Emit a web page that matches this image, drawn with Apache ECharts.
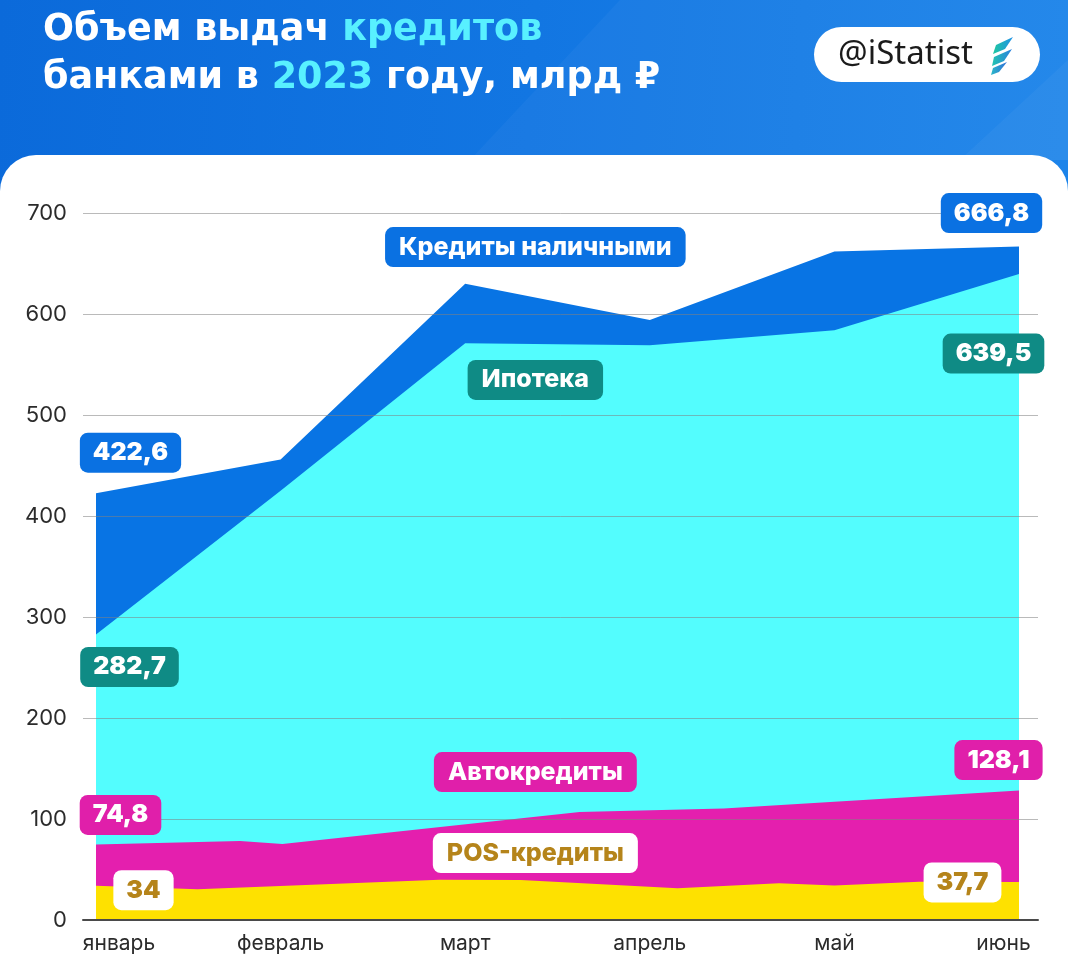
<!DOCTYPE html>
<html><head><meta charset="utf-8">
<script src="https://cdn.jsdelivr.net/npm/echarts@6/dist/echarts.min.js"></script>
<style>html,body{margin:0;padding:0;background:#fff}#c{width:1068px;height:976px}</style>
</head><body><div id="c"></div>
<script>
// ---------- data ----------
const months = ['январь', 'февраль', 'март', 'апрель', 'май', 'июнь'];
const yTicks = [0, 100, 200, 300, 400, 500, 600, 700];
const seriesNames = ['Кредиты наличными', 'Ипотека', 'Автокредиты', 'POS-кредиты'];

const cashPos = [0, 1, 2, 3, 4, 5];
const cashValues = [422.6, 456, 630, 594, 662, 666.8];

const mortgagePos = [0, 1, 2, 3, 4, 5];
const mortgageValues = [282.7, 425, 571, 569, 584, 639.5];

const autoPos = [0, 0.78, 1.01, 2.62, 3.4, 5];
const autoValues = [74.8, 78.3, 75.2, 107, 110.5, 128.1];

const posPos = [0, 0.55, 1.86, 2.3, 3.15, 3.7, 4.0, 4.46, 5];
const posValues = [34, 30.5, 39.8, 39.5, 31.5, 36.3, 34.2, 37.9, 37.7];

// ---------- styles ----------
const FONT = 'Inter, "Open Sans", sans-serif';
const TITLE_FONT = '"DejaVu Sans", sans-serif';
const C_CASH = '#0874E4', C_MORT = '#53FDFE', C_AUTO = '#E41FAE', C_POS = '#FEE100';
const B_CASH = '#0A71E2', B_MORT = '#0F8B85', B_AUTO = '#E01FAA', T_POS = '#B5841A';

const fmt = v => String(v).replace('.', ',');

function boxLabel(bg, fg, dx, dy) {
  return {
    show: true, position: [dx, dy], align: 'center', verticalAlign: 'middle',
    backgroundColor: bg, color: fg, borderRadius: 8, padding: [7, 13, 7, 13],
    fontSize: 25, lineHeight: 26, fontWeight: 900, fontFamily: FONT,
    formatter: p => fmt(p.value)
  };
}

function nameLabel(bg, fg) {
  return {
    show: true, position: 'inside', backgroundColor: bg, color: fg,
    borderRadius: 8, padding: [7, 14, 7, 14], fontSize: 25, lineHeight: 26,
    fontWeight: 800, fontFamily: FONT, formatter: p => p.name
  };
}

// value call-outs on the first and last point of a series
function endPoints(xs, vs, firstLabel, lastLabel) {
  const n = xs.length - 1;
  return [
    { coord: [xs[0], vs[0]], value: vs[0], label: firstLabel },
    { coord: [xs[n], vs[n]], value: vs[n], label: lastLabel }
  ];
}

function areaSeries(name, color, xs, vs, markData) {
  return {
    name, type: 'line', xAxisIndex: 0, yAxisIndex: 0,
    showSymbol: false, symbol: 'none',
    lineStyle: { width: 0, color: color },
    areaStyle: { color: color, opacity: 1 },
    silent: true, animation: false, z: 2,
    data: xs.map((x, i) => [x, vs[i]]),
    markPoint: {
      z: 20, symbol: 'circle', symbolSize: 1, itemStyle: { color: 'rgba(0,0,0,0)' },
      silent: true, animation: false, data: markData
    }
  };
}

const chart = echarts.init(document.getElementById('c'), null, { renderer: 'canvas' });

const option = {
  backgroundColor: '#ffffff',
  animation: false,
  graphic: [
    { type: 'rect', z: -10, silent: true, shape: { x: 0, y: 0, width: 1068, height: 195 },
      style: { fill: new echarts.graphic.LinearGradient(0, 0, 1, 0.3, [
        { offset: 0, color: '#0B6ADA' }, { offset: 0.5, color: '#1276E2' }, { offset: 1, color: '#1C84EA' }]) } },
    { type: 'polygon', z: -9, silent: true, shape: { points: [[470, 160], [620, 0], [1068, 0], [1068, 160]] },
      style: { fill: 'rgba(255,255,255,0.035)' } },
    { type: 'polygon', z: -9, silent: true, shape: { points: [[960, 160], [1068, 60], [1068, 160]] },
      style: { fill: 'rgba(255,255,255,0.04)' } },
    { type: 'rect', z: -8, silent: true, shape: { x: 0, y: 155, width: 1068, height: 40, r: [36, 36, 0, 0] },
      style: { fill: '#ffffff' } },
    { type: 'text', z: 5, x: 43, y: 7, silent: true,
      style: {
        text: '{w|Объем выдач }{c|кредитов}\n{w|банками в }{c|2023}{w| году, млрд ₽}',
        rich: {
          w: { fill: '#ffffff', fontSize: 36.5, fontWeight: 'bold', fontFamily: TITLE_FONT, lineHeight: 48 },
          c: { fill: '#58F0FF', fontSize: 36.5, fontWeight: 'bold', fontFamily: TITLE_FONT, lineHeight: 48 }
        }
      } },
    { type: 'rect', z: 5, silent: true, shape: { x: 814, y: 27, width: 226, height: 55, r: 27.5 },
      style: { fill: '#ffffff' } },
    { type: 'text', z: 6, x: 838, y: 55, silent: true,
      style: { text: '@iStatist', fill: '#1b1b1b', fontSize: 33, fontFamily: '"Noto Sans", sans-serif', fontWeight: 400,
        textAlign: 'left', textVerticalAlign: 'middle' } },
    { type: 'polygon', z: 6, silent: true, shape: { points: [[996, 45], [1013, 37], [1005, 49], [993, 54]] },
      style: { fill: new echarts.graphic.LinearGradient(0, 0, 1, 0, [{ offset: 0, color: '#1FC8A0' }, { offset: 1, color: '#1E90E8' }]) } },
    { type: 'polygon', z: 6, silent: true, shape: { points: [[994, 57], [1012, 49], [1004, 61], [992, 66]] },
      style: { fill: new echarts.graphic.LinearGradient(0, 0, 1, 0, [{ offset: 0, color: '#22C4B0' }, { offset: 1, color: '#2A7FE0' }]) } },
    { type: 'polygon', z: 6, silent: true, shape: { points: [[993, 68], [1007, 62], [999, 72], [991, 75]] },
      style: { fill: new echarts.graphic.LinearGradient(0, 0, 1, 0, [{ offset: 0, color: '#2BB8C8' }, { offset: 1, color: '#2F6FD8' }]) } }
  ],
  grid: [
    { left: 96, right: 49, top: 213, bottom: 56 },
    { left: 83, right: 30, top: 213, bottom: 56 }
  ],
  xAxis: [
    { type: 'value', gridIndex: 0, min: 0, max: 5, interval: 1,
      axisLine: { show: false }, axisTick: { show: false }, splitLine: { show: false },
      axisLabel: {
        margin: 13, color: '#2b2b2b', fontSize: 21, fontFamily: FONT,
        showMinLabel: true, showMaxLabel: true,
        formatter: v => {
          const i = Math.round(v);
          if (i === 0) return '{first|' + months[0] + '}';
          if (i === months.length - 1) return '{last|' + months[i] + '}';
          return '{mid|' + months[i] + '}';
        },
        rich: {
          first: { padding: [0, 0, 0, 46], fontSize: 21, fontFamily: FONT, color: '#2b2b2b' },
          last: { padding: [0, 31, 0, 0], fontSize: 21, fontFamily: FONT, color: '#2b2b2b' },
          mid: { fontSize: 21, fontFamily: FONT, color: '#2b2b2b' }
        }
      } },
    { type: 'value', gridIndex: 1, min: 0, max: 1, z: 10,
      axisLine: { show: true, lineStyle: { color: '#4a4a4a', width: 2 } },
      axisTick: { show: false }, axisLabel: { show: false }, splitLine: { show: false } }
  ],
  yAxis: [
    { type: 'value', gridIndex: 0, min: 0, max: 700, interval: 100, show: false },
    { type: 'value', gridIndex: 1, min: yTicks[0], max: yTicks[yTicks.length - 1], interval: 100, z: 10,
      axisLine: { show: false }, axisTick: { show: false },
      axisLabel: { margin: 16, color: '#2b2b2b', fontSize: 22, fontFamily: FONT },
      splitLine: { lineStyle: { color: 'rgba(130,130,130,0.55)', width: 1 } } }
  ],
  series: [
    areaSeries(seriesNames[0], C_CASH, cashPos, cashValues,
      endPoints(cashPos, cashValues, boxLabel(B_CASH, '#fff', 35, -40), boxLabel(B_CASH, '#fff', -27, -33))
        .concat([{ name: seriesNames[0], coord: [2.38, 666.3], value: 0, label: nameLabel(B_CASH, '#fff') }])),
    areaSeries(seriesNames[1], C_MORT, mortgagePos, mortgageValues,
      endPoints(mortgagePos, mortgageValues, boxLabel(B_MORT, '#fff', 34, 33), boxLabel(B_MORT, '#fff', -25, 80))
        .concat([{ name: seriesNames[1], coord: [2.38, 534.7], value: 0, label: nameLabel(B_MORT, '#fff') }])),
    areaSeries(seriesNames[2], C_AUTO, autoPos, autoValues,
      endPoints(autoPos, autoValues, boxLabel(B_AUTO, '#fff', 25, -29), boxLabel(B_AUTO, '#fff', -20, -30))
        .concat([{ name: seriesNames[2], coord: [2.38, 146.5], value: 0, label: nameLabel(B_AUTO, '#fff') }])),
    areaSeries(seriesNames[3], C_POS, posPos, posValues,
      endPoints(posPos, posValues, boxLabel('#ffffff', T_POS, 48, 5), boxLabel('#ffffff', T_POS, -56, 1))
        .concat([{ name: seriesNames[3], coord: [2.38, 66.3], value: 0, label: nameLabel('#ffffff', T_POS) }]))
  ]
};
chart.setOption(option);
</script>
</body></html>
